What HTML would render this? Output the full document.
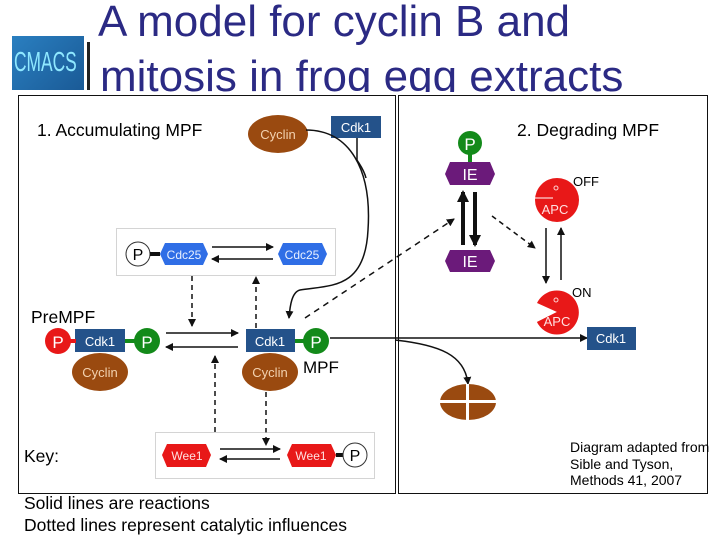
<!DOCTYPE html>
<html><head><style>
body{margin:0;width:720px;height:540px;background:#fff;overflow:hidden;position:relative;font-family:"Liberation Sans",sans-serif}
.t{position:absolute;color:#2b2a84;font-size:44px;line-height:44px;white-space:nowrap}
</style></head><body>
<div style="position:absolute;left:12px;top:36px;width:72px;height:54px;background:linear-gradient(135deg,#2a7fc0,#1a5a96);overflow:hidden"><div style="position:absolute;left:2px;top:10px;color:#8fe8ff;font-size:28px;transform:scaleX(0.62);transform-origin:0 0;white-space:nowrap">CMACS</div></div>
<div style="position:absolute;left:87px;top:42px;width:3px;height:48px;background:#222"></div>
<div class="t" style="left:98px;top:0px">A model for cyclin B and</div>
<div style="position:absolute;left:0;top:55px;width:720px;height:37px;overflow:hidden"><div class="t" style="left:100px;top:0px">mitosis in frog egg extracts</div></div>
<svg width="720" height="540" style="position:absolute;left:0;top:0" font-family="Liberation Sans,sans-serif">
<defs>
<marker id="a" markerWidth="8" markerHeight="8" refX="7" refY="4" orient="auto" markerUnits="userSpaceOnUse"><path d="M0,0L8,4L0,8z" fill="#111"/></marker>
<marker id="b" markerWidth="12" markerHeight="12" refX="10" refY="6" orient="auto" markerUnits="userSpaceOnUse"><path d="M0,0L12,6L0,12z" fill="#111"/></marker>
</defs>
<rect x="18.5" y="95.5" width="377" height="398" fill="none" stroke="#111"/>
<rect x="398.5" y="95.5" width="309" height="398" fill="none" stroke="#111"/>
<text x="37" y="136" font-size="17.5">1. Accumulating MPF</text>
<text x="517" y="136" font-size="17.5">2. Degrading MPF</text>
<ellipse cx="278" cy="134" rx="30" ry="19" fill="#9a4a10"/><text x="278" y="139" font-size="13" fill="#f3d2b0" text-anchor="middle">Cyclin</text>
<rect x="331" y="116" width="50" height="22" fill="#24528a"/><text x="356" y="132" font-size="13" fill="#fff" text-anchor="middle">Cdk1</text>
<path d="M306,130 C350,130 372,170 368,230 C365,290 330,285 300,290 C292,292 290,305 289,318" fill="none" stroke="#111" stroke-width="1.5" marker-end="url(#a)"/>
<path d="M357,138 L357,160 C360,165 364,170 366,178" fill="none" stroke="#111" stroke-width="1.5"/>
<rect x="116.5" y="228.5" width="219" height="47" fill="none" stroke="#aaa" stroke-dasharray="1,1"/>
<circle cx="138" cy="254" r="12" fill="#fff" stroke="#333"/><text x="138" y="260" font-size="16" text-anchor="middle">P</text>
<rect x="150" y="252" width="10" height="4" fill="#111"/>
<path d="M160,254 L165,243 L203,243 L208,254 L203,265 L165,265z" fill="#2f6ee6"/><text x="184" y="259" font-size="12" fill="#e8f0ff" text-anchor="middle">Cdc25</text>
<path d="M278,254 L283,243 L322,243 L327,254 L322,265 L283,265z" fill="#2f6ee6"/><text x="302" y="259" font-size="12" fill="#e8f0ff" text-anchor="middle">Cdc25</text>
<line x1="212" y1="247" x2="273" y2="247" stroke="#111" stroke-width="1.5" marker-end="url(#a)"/>
<line x1="273" y1="259" x2="212" y2="259" stroke="#111" stroke-width="1.5" marker-end="url(#a)"/>
<line x1="192" y1="276" x2="192" y2="326" stroke="#111" stroke-width="1.5" stroke-dasharray="5,4" marker-end="url(#a)"/>
<line x1="256" y1="328" x2="256" y2="277" stroke="#111" stroke-width="1.5" stroke-dasharray="5,4" marker-end="url(#a)"/>
<text x="31" y="323" font-size="17.5">PreMPF</text>
<rect x="75" y="329" width="50" height="23" fill="#24528a"/><text x="100" y="346" font-size="13" fill="#fff" text-anchor="middle">Cdk1</text>
<circle cx="58" cy="341" r="13" fill="#e81818"/><text x="58" y="348" font-size="17" fill="#fff" text-anchor="middle">P</text>
<rect x="70" y="339" width="6" height="4" fill="#e81818"/>
<circle cx="147" cy="341" r="13" fill="#138a1a"/><text x="147" y="348" font-size="17" fill="#fff" text-anchor="middle">P</text>
<rect x="125" y="339" width="10" height="4" fill="#138a1a"/>
<ellipse cx="100" cy="372" rx="28" ry="19" fill="#9a4a10"/><text x="100" y="377" font-size="13" fill="#f3d2b0" text-anchor="middle">Cyclin</text>
<line x1="166" y1="333" x2="238" y2="333" stroke="#111" stroke-width="1.5" marker-end="url(#a)"/>
<line x1="238" y1="347" x2="166" y2="347" stroke="#111" stroke-width="1.5" marker-end="url(#a)"/>
<rect x="246" y="329" width="49" height="23" fill="#24528a"/><text x="270" y="346" font-size="13" fill="#fff" text-anchor="middle">Cdk1</text>
<circle cx="316" cy="341" r="13" fill="#138a1a"/><text x="316" y="348" font-size="17" fill="#fff" text-anchor="middle">P</text>
<rect x="295" y="339" width="9" height="4" fill="#138a1a"/>
<ellipse cx="270" cy="372" rx="28" ry="19" fill="#9a4a10"/><text x="270" y="377" font-size="13" fill="#f3d2b0" text-anchor="middle">Cyclin</text>
<text x="303" y="373" font-size="17">MPF</text>
<line x1="215" y1="432" x2="215" y2="356" stroke="#111" stroke-width="1.5" stroke-dasharray="5,4" marker-end="url(#a)"/>
<line x1="266" y1="392" x2="266" y2="445" stroke="#111" stroke-width="1.5" stroke-dasharray="5,4" marker-end="url(#a)"/>
<rect x="155.5" y="432.5" width="219" height="46" fill="none" stroke="#aaa" stroke-dasharray="1,1"/>
<path d="M162,455 L167,444 L206,444 L211,455 L206,467 L167,467z" fill="#e81818"/><text x="187" y="460" font-size="12" fill="#ffe0e0" text-anchor="middle">Wee1</text>
<path d="M287,455 L292,444 L331,444 L336,455 L331,467 L292,467z" fill="#e81818"/><text x="311" y="460" font-size="12" fill="#ffe0e0" text-anchor="middle">Wee1</text>
<rect x="336" y="453" width="8" height="4" fill="#111"/>
<circle cx="355" cy="455" r="12" fill="#fff" stroke="#333"/><text x="355" y="461" font-size="16" text-anchor="middle">P</text>
<line x1="220" y1="449" x2="280" y2="449" stroke="#111" stroke-width="1.5" marker-end="url(#a)"/>
<line x1="280" y1="459" x2="220" y2="459" stroke="#111" stroke-width="1.5" marker-end="url(#a)"/>
<text x="24" y="462" font-size="17.5">Key:</text>
<text x="24" y="509" font-size="17.5">Solid lines are reactions</text>
<text x="24" y="531" font-size="17.5">Dotted lines represent catalytic influences</text>
<line x1="305" y1="318" x2="454" y2="219" stroke="#111" stroke-width="1.5" stroke-dasharray="6,5" marker-end="url(#a)"/>
<circle cx="470" cy="143" r="12" fill="#138a1a"/><text x="470" y="150" font-size="17" fill="#fff" text-anchor="middle">P</text>
<rect x="468" y="154" width="4" height="8" fill="#138a1a"/>
<path d="M445,174 L450,162 L490,162 L495,174 L490,185 L450,185z" fill="#6b1a7a"/><text x="470" y="180" font-size="16" fill="#fff" text-anchor="middle">IE</text>
<path d="M445,261 L450,250 L490,250 L495,261 L490,272 L450,272z" fill="#6b1a7a"/><text x="470" y="267" font-size="16" fill="#fff" text-anchor="middle">IE</text>
<line x1="463" y1="245" x2="463" y2="192" stroke="#111" stroke-width="4" marker-end="url(#b)"/>
<line x1="475" y1="192" x2="475" y2="245" stroke="#111" stroke-width="4" marker-end="url(#b)"/>
<line x1="492" y1="216" x2="535" y2="248" stroke="#111" stroke-width="1.5" stroke-dasharray="5,4" marker-end="url(#a)"/>
<circle cx="557" cy="200" r="22" fill="#e81818"/><circle cx="556" cy="188" r="2" fill="none" stroke="#ffd0d0"/>
<line x1="535" y1="198" x2="553" y2="198" stroke="#fff"/><text x="555" y="214" font-size="13" fill="#ffe0e0" text-anchor="middle">APC</text>
<text x="573" y="186" font-size="13">OFF</text>
<line x1="546" y1="228" x2="546" y2="283" stroke="#111" stroke-width="1.5" marker-end="url(#a)"/>
<line x1="561" y1="280" x2="561" y2="228" stroke="#111" stroke-width="1.5" marker-end="url(#a)"/>
<path d="M557,312 L537,303 A22,22 0 1 1 537,322 z" fill="#e81818"/>
<path d="M557,312 L537,322 A22,22 0 0 0 557,334 z" fill="#e81818"/>
<circle cx="556" cy="300" r="2" fill="none" stroke="#ffd0d0"/><text x="557" y="326" font-size="13" fill="#ffe0e0" text-anchor="middle">APC</text>
<text x="572" y="297" font-size="13">ON</text>
<line x1="330" y1="338" x2="587" y2="338" stroke="#111" stroke-width="1.5" marker-end="url(#a)"/>
<rect x="587" y="327" width="49" height="23" fill="#24528a"/><text x="611" y="343" font-size="13" fill="#fff" text-anchor="middle">Cdk1</text>
<path d="M395,340 C440,345 465,355 468,384" fill="none" stroke="#111" stroke-width="1.5" marker-end="url(#a)"/>
<ellipse cx="468" cy="402" rx="28" ry="18" fill="#9a4a10"/>
<rect x="440" y="400" width="56" height="3" fill="#fff"/><rect x="466" y="384" width="3" height="36" fill="#fff"/>
<text x="570" y="452" font-size="14">Diagram adapted from</text>
<text x="570" y="469" font-size="14">Sible and Tyson,</text>
<text x="570" y="485" font-size="14">Methods 41, 2007</text>
</svg>
</body></html>
